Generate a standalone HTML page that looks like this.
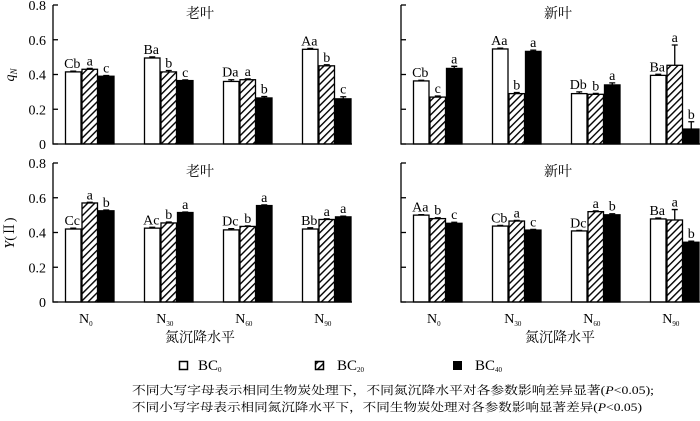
<!DOCTYPE html>
<html><head><meta charset="utf-8">
<style>
html,body{margin:0;padding:0;background:#fff;}
svg, svg text{font-family:"Liberation Serif","Times New Roman","Noto Serif CJK SC","Noto Sans CJK SC",serif;}
</style></head>
<body>
<svg id="c" width="700" height="416" viewBox="0 0 700 416" xmlns="http://www.w3.org/2000/svg" font-family="Liberation Serif, Noto Serif CJK SC, serif">
<defs>
<pattern id="hatch" patternUnits="userSpaceOnUse" width="5" height="5" patternTransform="rotate(45)">
<rect width="5" height="5" fill="#fff"/>
<line x1="0" y1="0" x2="0" y2="5" stroke="#000" stroke-width="2.8"/>
</pattern>
</defs>
<g id="plots"></g>
<text x="14" y="75" font-size="14" font-style="italic" text-anchor="middle" transform="rotate(-90 14 75)">q<tspan font-size="9" dy="3">N</tspan></text>
<text x="14" y="233" font-size="14" text-anchor="middle" transform="rotate(-90 14 233)"><tspan font-style="italic">Y</tspan>(Ⅱ)</text>
<text x="200" y="342" font-size="14" text-anchor="middle">氮沉降水平</text>
<text x="560" y="342" font-size="14" text-anchor="middle">氮沉降水平</text>
<g>
<rect x="179.5" y="361.5" width="8" height="8" fill="#fff" stroke="#000" stroke-width="1.5"/>
<text x="198" y="370" font-size="15">BC<tspan font-size="7" dy="2">0</tspan></text>
<rect x="315.5" y="361.5" width="8" height="8" fill="url(#hatch)" stroke="#000" stroke-width="1.5"/>
<text x="337" y="370" font-size="15">BC<tspan font-size="7" dy="2">20</tspan></text>
<rect x="453" y="361" width="9" height="9" fill="#000"/>
<text x="475" y="370" font-size="15">BC<tspan font-size="7" dy="2">40</tspan></text>
</g>
<text x="132" y="394" font-size="11.5" textLength="522" lengthAdjust="spacingAndGlyphs">不同大写字母表示相同生物炭处理下，不同氮沉降水平对各参数影响差异显著(<tspan font-style="italic">P</tspan>&lt;0.05);</text>
<text x="132" y="411" font-size="11.5" textLength="510" lengthAdjust="spacingAndGlyphs">不同小写字母表示相同氮沉降水平下，不同生物炭处理对各参数影响显著差异(<tspan font-style="italic">P</tspan>&lt;0.05)</text>
</svg>
<script>
const categories = ["N0","N30","N60","N90"];
const catSubs = ["0","30","60","90"];
const series = ["BC0","BC20","BC40"];
const yTicks = [0, 0.2, 0.4, 0.6, 0.8];
const yTickLabels = ["0","0.2","0.4","0.6","0.8"];
// q_N old leaf
const qnOld = [[0.415,0.43,0.39],[0.495,0.415,0.365],[0.36,0.37,0.265],[0.545,0.45,0.26]];
const qnOldErr = [[0.004,0.005,0.004],[0.006,0.008,0.004],[0.01,0.005,0.008],[0.005,0.006,0.012]];
const qnOldLbl = [["Cb","a","c"],["Ba","b","c"],["Da","a","b"],["Aa","b","c"]];
// q_N new leaf
const qnNew = [[0.363,0.27,0.435],[0.547,0.29,0.533],[0.29,0.286,0.34],[0.395,0.453,0.086]];
const qnNewErr = [[0.004,0.006,0.012],[0.005,0.006,0.007],[0.01,0.005,0.012],[0.006,0.117,0.042]];
const qnNewLbl = [["Cb","c","a"],["Aa","b","a"],["Db","b","a"],["Ba","a","b"]];
// Y(II) old leaf
const yOld = [[0.42,0.57,0.525],[0.425,0.455,0.515],[0.415,0.435,0.555],[0.42,0.475,0.49]];
const yOldErr = [[0.005,0.004,0.004],[0.005,0.005,0.003],[0.007,0.003,0.004],[0.007,0.004,0.004]];
const yOldLbl = [["Cc","a","b"],["Ac","b","a"],["Dc","b","a"],["Bb","a","a"]];
// Y(II) new leaf
const yNew = [[0.50,0.48,0.453],[0.437,0.466,0.414],[0.409,0.52,0.502],[0.478,0.472,0.344]];
const yNewErr = [[0.003,0.005,0.006],[0.004,0.004,0.004],[0.003,0.004,0.006],[0.005,0.06,0.006]];
const yNewLbl = [["Aa","b","c"],["Cb","a","c"],["Dc","a","b"],["Ba","a","b"]];

const NS = "http://www.w3.org/2000/svg";
const root = document.getElementById("plots");
function mk(tag, attrs, parent){
  const e = document.createElementNS(NS, tag);
  for (const k in attrs) e.setAttribute(k, attrs[k]);
  (parent||root).appendChild(e);
  return e;
}
const fills = ["#fff","url(#hatch)","#000"];
function panel(name, ax, top, zero, right, title, titleX, vals, errs, lbls, showLabels, showX){
  const g = mk("g", {});
  
  
  const yScale = v => zero - (zero - top) * v / 0.8;
  const groupStart = i => ax + 12 + i * 79;
  const bw = 16.5;
  const xScale = (i, j) => groupStart(i) + j * bw;
  vals.forEach((grp, i) => grp.forEach((v, j) => {
    const x = xScale(i, j), y = yScale(v);
    const r = mk("rect", {x: x+0.5, y: y, width: bw-1, height: zero - y, fill: fills[j], stroke: "#000", "stroke-width": 1.3}, g);
    
    
    const e = errs[i][j], cx = x + bw/2, ye = yScale(v + e);
    const el = mk("path", {d: `M${cx},${y} V${ye} M${cx-3},${ye} H${cx+3}`, stroke: "#000", "stroke-width": 1.3, fill: "none"}, g);
    
    
    const t = mk("text", {x: j===0 ? cx-1 : cx, y: ye - 3, "font-size": 14, "text-anchor": "middle"}, g);
    t.textContent = lbls[i][j];
    
    
  }));
  const a = mk("path", {d: `M${ax},${top} V${zero} H${right}`, stroke: "#000", "stroke-width": 1.3, fill: "none"}, g);
  
  
  yTicks.forEach((v, k) => {
    const y = yScale(v);
    const tk = mk("line", {x1: ax, x2: ax+5, y1: y, y2: y, stroke: "#000", "stroke-width": 1.3}, g);
    
    
    if (showLabels){
      const t = mk("text", {x: ax-7, y: y+5, "font-size": 14, "text-anchor": "end"}, g);
      t.textContent = yTickLabels[k];
      
      
    }
  });
  const tt = mk("text", {x: titleX, y: top + 13, "font-size": 14, "text-anchor": "middle"}, g);
  tt.textContent = title;
  
  
  if (showX){
    categories.forEach((c, i) => {
      const t = mk("text", {x: groupStart(i) + 1.5*bw - 4, y: zero + 21, "font-size": 14, "text-anchor": "middle"}, g);
      t.textContent = "N";
      const s = document.createElementNS(NS, "tspan");
      s.setAttribute("font-size", "7");
      s.setAttribute("dy", "3");
      s.textContent = catSubs[i];
      t.appendChild(s);
      
      
    });
  }
}
panel("panel-qn-old", 53, 5, 144, 352, "老叶", 200, qnOld, qnOldErr, qnOldLbl, true, false);
panel("panel-qn-new", 401, 5, 144, 700, "新叶", 558, qnNew, qnNewErr, qnNewLbl, false, false);
panel("panel-y2-old", 53, 163, 302, 352, "老叶", 200, yOld, yOldErr, yOldLbl, true, true);
panel("panel-y2-new", 401, 163, 302, 700, "新叶", 558, yNew, yNewErr, yNewLbl, false, true);
</script>
</body></html>
